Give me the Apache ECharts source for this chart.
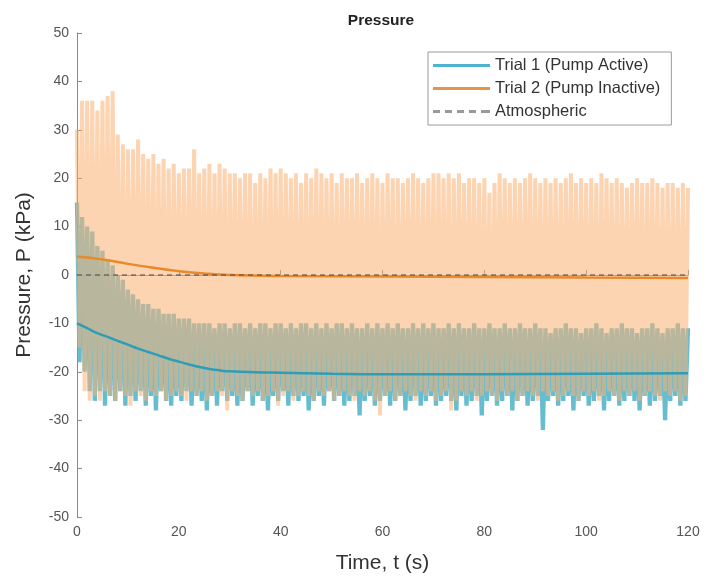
<!DOCTYPE html>
<html>
<head>
<meta charset="utf-8">
<script src="https://cdn.jsdelivr.net/npm/echarts@6/dist/echarts.min.js"></script>
<style>html,body{margin:0;padding:0;background:#fff}#c{width:710px;height:579px}</style>
</head>
<body>
<div id="c"></div>
<script>
// Raw signal peaks (t = 0..120, one per second) and troughs (t = 0.5..119.5)
const orangeHigh = [30,36,36,36,34,36,37,38,29,27,26,26,28,25,24,25,23,24,22,23,
  21,22,22,26,21,22,23,21,23,22,21,21,20,21,21,19,21,20,22,21,
  22,21,20,21,19,21,20,22,21,20,21,19,21,20,20,21,19,20,21,20,
  19,21,20,20,19,20,21,20,19,20,21,21,20,21,20,21,19,20,20,19,
  20,17,19,21,20,19,20,19,20,21,20,19,20,19,20,19,20,21,19,20,
  19,20,19,21,20,19,20,19,18,19,20,19,19,20,19,18,19,19,18,19,18];
const orangeLow = [-15,-24,-26,-25,-26,-24,-25,-26,-24,-25,-27,-24,-25,-26,-24,-25,-24,-26,-25,-24,
  -25,-26,-24,-25,-24,-26,-25,-24,-25,-28,-24,-25,-26,-24,-25,-24,-26,-25,-24,-27,
  -25,-24,-26,-25,-24,-25,-26,-24,-25,-24,-26,-25,-24,-25,-26,-24,-25,-24,-26,-29,
  -25,-24,-26,-25,-24,-25,-26,-24,-25,-24,-26,-25,-24,-28,-26,-24,-25,-24,-26,-25,
  -24,-25,-26,-24,-25,-24,-26,-25,-24,-25,-26,-24,-25,-24,-26,-25,-24,-25,-26,-24,
  -25,-24,-26,-25,-24,-25,-26,-24,-25,-24,-26,-25,-24,-25,-26,-24,-25,-24,-26,-25];
const tealHigh = [15,12,10,9,6,5,3,2,0,-1,-3,-4,-5,-6,-6,-7,-7,-8,-8,-8,
  -9,-9,-9,-10,-10,-10,-10,-11,-10,-10,-11,-10,-10,-11,-10,-11,-10,-10,-11,-10,
  -10,-11,-10,-11,-10,-10,-11,-10,-11,-10,-11,-10,-10,-11,-10,-11,-11,-10,-11,-10,
  -11,-10,-11,-10,-11,-11,-10,-11,-10,-11,-10,-11,-11,-10,-11,-10,-11,-11,-10,-11,
  -11,-10,-11,-11,-10,-11,-11,-10,-11,-11,-10,-11,-11,-12,-11,-11,-10,-11,-11,-12,
  -11,-11,-10,-11,-12,-11,-11,-10,-11,-11,-12,-11,-11,-10,-11,-12,-11,-11,-10,-11,-11];
const tealLow = [-18,-20,-24,-26,-24,-27,-25,-26,-24,-27,-25,-26,-24,-27,-25,-28,-24,-26,-27,-25,
  -26,-24,-27,-25,-26,-28,-25,-27,-24,-26,-25,-27,-26,-24,-27,-25,-26,-28,-25,-26,
  -24,-27,-25,-26,-25,-28,-26,-25,-27,-24,-26,-25,-27,-26,-25,-29,-26,-25,-27,-26,
  -25,-27,-26,-25,-28,-26,-25,-27,-26,-25,-27,-26,-25,-26,-28,-25,-27,-26,-25,-29,
  -26,-25,-27,-26,-25,-28,-26,-25,-27,-26,-25,-32,-26,-25,-27,-26,-25,-28,-26,-25,
  -27,-26,-25,-28,-26,-25,-27,-26,-25,-26,-28,-25,-27,-26,-25,-30,-26,-25,-27,-26];

// Smoothed curves
const tealSmoothT = [0,2,4,6,8,10,12,14,16,18,20,22,24,26,28,30,35,40,50,60,80,100,120];
const tealSmoothP = [-10,-11,-12,-12.8,-13.6,-14.4,-15.2,-15.9,-16.6,-17.3,-17.9,-18.5,-19,-19.4,-19.7,-19.9,-20.1,-20.2,-20.4,-20.5,-20.5,-20.4,-20.3];
const orangeSmoothT = [0,5,10,15,20,25,30,40,60,80,100,120];
const orangeSmoothP = [3.8,3.2,2.3,1.5,0.8,0.3,0,-0.2,-0.3,-0.4,-0.5,-0.6];
const atmT = [0,120];
const atmP = [0,0];

const xTicks = {min:0, max:120, interval:20};
const yTicks = {min:-50, max:50, interval:10};

function zigzag(high, low){
  const out = [];
  for (let i = 0; i < high.length; i++){
    out.push([i, high[i]]);
    if (i < low.length) out.push([i + 0.5, low[i]]);
  }
  return out;
}
function pairs(t, p){ return t.map((v,i)=>[v,p[i]]); }

const FONT = 'Liberation Sans, Arial, sans-serif';
const DASH_ICON = 'path://M0,0h7v3h-7z M12,0h7v3h-7z M24,0h7v3h-7z M36,0h7v3h-7z M48,0h9v3h-9z';
const chart = echarts.init(document.getElementById('c'), null, {renderer:'canvas'});
chart.setOption({
  animation:false,
  backgroundColor:'#fff',
  title:{text:'Pressure', left:376, top:8, textAlign:'center',
    textStyle:{fontFamily:FONT, fontSize:15.5, fontWeight:'bold', color:'#222'}},
  grid:{left:77, right:22, top:33, bottom:61, containLabel:false},
  legend:{
    data:[
      {name:'Trial 1 (Pump Active)', icon:'rect', itemStyle:{color:'#4db3cf'}},
      {name:'Trial 2 (Pump Inactive)', icon:'rect', itemStyle:{color:'#e8924a'}},
      {name:'Atmospheric', icon:DASH_ICON, itemStyle:{color:'#999'}}
    ],
    orient:'vertical', left:428, top:52, itemWidth:57, itemHeight:3, itemGap:6,
    padding:[5,11,5,5], borderColor:'#9a9a9a', borderWidth:1, backgroundColor:'#fff',
    textStyle:{fontFamily:FONT, fontSize:16.5, color:'#333'}
  },
  xAxis:{type:'value', min:xTicks.min, max:xTicks.max, interval:xTicks.interval,
    name:'Time, t (s)', nameLocation:'middle', nameGap:36,
    nameTextStyle:{fontFamily:FONT, fontSize:21, color:'#333'},
    axisLine:{lineStyle:{color:'#8a8a8a'}}, axisTick:{inside:true, length:5, lineStyle:{color:'#8a8a8a'}},
    axisLabel:{fontFamily:FONT, fontSize:14, color:'#555', margin:8},
    splitLine:{show:false}},
  yAxis:{type:'value', min:yTicks.min, max:yTicks.max, interval:yTicks.interval,
    name:'Pressure, P (kPa)', nameLocation:'middle', nameGap:42, nameRotate:90,
    nameTextStyle:{fontFamily:FONT, fontSize:21, color:'#333'},
    axisLine:{show:true, lineStyle:{color:'#8a8a8a'}}, axisTick:{show:true, inside:true, length:5, lineStyle:{color:'#8a8a8a'}},
    axisLabel:{fontFamily:FONT, fontSize:14, color:'#555', margin:8},
    splitLine:{show:false}},
  series:[
    {name:'Trial 1 raw', type:'line', data:zigzag(tealHigh, tealLow), symbol:'none', z:1,
      lineStyle:{color:'rgba(75,178,200,0.85)', width:4.3, join:'bevel'}},
    {name:'Trial 2 raw', type:'line', data:zigzag(orangeHigh, orangeLow), symbol:'none', z:2,
      lineStyle:{color:'rgba(251,177,115,0.55)', width:4, join:'bevel'}},
    {name:'Trial 2 (Pump Inactive)', type:'line', data:pairs(orangeSmoothT, orangeSmoothP), symbol:'none', smooth:true, z:3,
      color:'#e8892c', lineStyle:{color:'#e8892c', width:2.5}},
    {name:'Trial 1 (Pump Active)', type:'line', data:pairs(tealSmoothT, tealSmoothP), symbol:'none', smooth:true, z:4,
      color:'#2e9db5', lineStyle:{color:'#2e9db5', width:2.5}},
    {name:'Atmospheric', type:'line', data:pairs(atmT, atmP), symbol:'none', z:5,
      color:'#555', lineStyle:{color:'#444', width:1, type:[5,4]}}
  ]
});
</script>
</body>
</html>
